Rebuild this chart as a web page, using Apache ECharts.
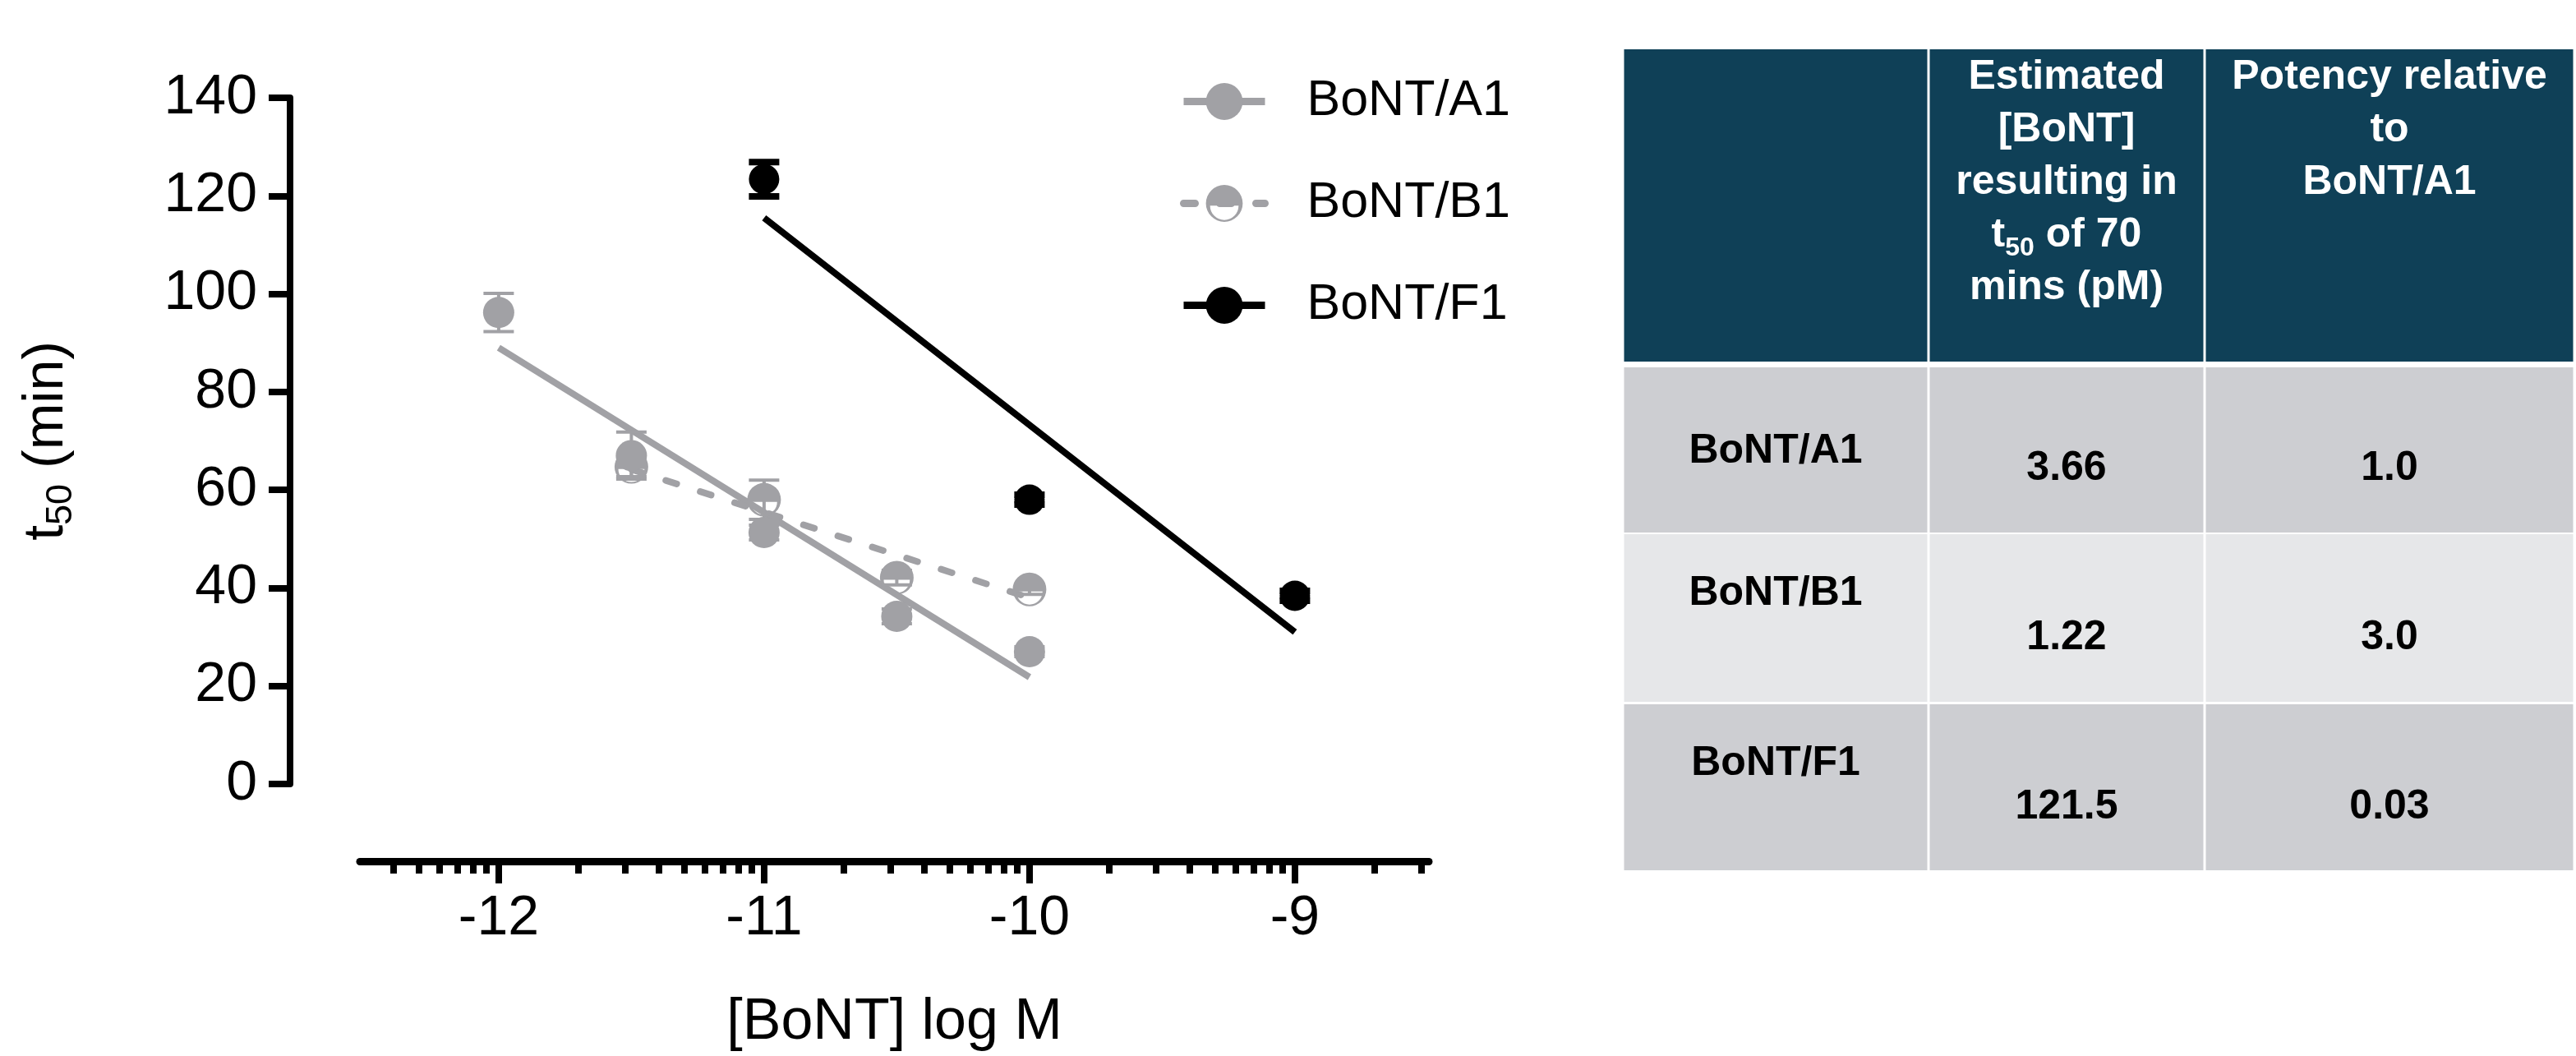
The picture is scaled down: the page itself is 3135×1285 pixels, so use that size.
<!DOCTYPE html>
<html>
<head>
<meta charset="utf-8">
<script src="https://cdn.jsdelivr.net/npm/echarts@6.0.0/dist/echarts.min.js"></script>
<style>
  html, body { margin: 0; padding: 0; background: #ffffff; }
  #chart { width: 3135px; height: 1285px; }
</style>
</head>
<body>
<div id="chart"></div>
<script>
// ---------- data ----------
const seriesNames = ['BoNT/A1', 'BoNT/B1', 'BoNT/F1'];

const xA1 = [-12, -11.5, -11, -10.5, -10];
const yA1 = [96.2, 67.0, 51.3, 34.2, 27.0];
const eA1 = [3.9, 4.8, 1.5, 1.5, 1.0];

const xB1 = [-11.5, -11, -10.5, -10];
const yB1 = [64.7, 58.0, 42.1, 39.7];
const eB1 = [2.0, 4.0, 1.5, 1.0];

const xF1 = [-11, -10, -9];
const yF1 = [123.4, 58.0, 38.4];
const eF1 = [3.5, 1.0, 1.0];

const fitXA1 = [-12, -10];
const fitYA1 = [89.0, 21.8];
const fitXB1 = [-11.5, -10];
const fitYB1 = [64.2, 38.0];
const fitXF1 = [-11, -9];
const fitYF1 = [115.5, 31.0];

const xTickLabels = [-12, -11, -10, -9];
const yTickInterval = 20;

const tableHeaders = ['', 'Estimated\n[BoNT]\nresulting in\nt{sub|50} of 70\nmins (pM)', 'Potency relative\nto\nBoNT/A1'];
const rowLabels = ['BoNT/A1', 'BoNT/B1', 'BoNT/F1'];
const estConc = ['3.66', '1.22', '121.5'];
const potency = ['1.0', '3.0', '0.03'];

// ---------- styling / layout ----------
const FONT = "'Liberation Sans', Arial, Helvetica, sans-serif";
const GRAY = '#a1a1a5';
const BLACK = '#000000';
const halfCircle = 'path://M-20,0 A20,20 0 1,1 20,0 A20,20 0 1,1 -20,0 Z M15.5,2.5 L-15.5,2.5 A15.5,15.5 0 0,0 15.5,2.5 Z';

const zip = (xs, ys) => xs.map((x, i) => [x, ys[i]]);
const zip3 = (xs, ys, es) => xs.map((x, i) => [x, ys[i], es[i]]);

// minor (log-spaced) tick positions on the log10 axis
const minorTicks = [];
for (let d = -13; d <= -9; d++) {
  for (let k = 2; k <= 9; k++) {
    const v = d + Math.log10(k);
    if (v > -12.52 && v < -8.49) minorTicks.push(v);
  }
}

function errorBars(color, stem, cap, capW) {
  return function (params, api) {
    const x = api.value(0), y = api.value(1), e = api.value(2);
    const t = api.coord([x, y + e]);
    const b = api.coord([x, y - e]);
    const h = capW / 2;
    return {
      type: 'group',
      children: [
        { type: 'line', shape: { x1: t[0], y1: t[1], x2: b[0], y2: b[1] }, style: { stroke: color, lineWidth: stem } },
        { type: 'line', shape: { x1: t[0] - h, y1: t[1], x2: t[0] + h, y2: t[1] }, style: { stroke: color, lineWidth: cap } },
        { type: 'line', shape: { x1: b[0] - h, y1: b[1], x2: b[0] + h, y2: b[1] }, style: { stroke: color, lineWidth: cap } }
      ]
    };
  };
}

// ---------- table (graphic) ----------
const colX = [1975, 2347, 2683, 3133];
const headerTop = 60, headerBottom = 440;
const rowY = [[447, 648], [650, 854], [857, 1059]];
const rowLabelY = [549, 722, 929];
const rowValueY = [570, 776, 982];
const rowFill = ['#cdced2', '#e6e7e9', '#cdced2'];
const HEADER_FILL = '#0f4057';

const graphics = [];
for (let c = 0; c < 3; c++) {
  graphics.push({
    type: 'rect', silent: true,
    shape: { x: colX[c] + 1.5, y: headerTop, width: colX[c + 1] - colX[c] - 3, height: headerBottom - headerTop },
    style: { fill: HEADER_FILL }
  });
  if (tableHeaders[c]) {
    graphics.push({
      type: 'text', silent: true,
      x: (colX[c] + colX[c + 1]) / 2, y: 62,
      style: {
        text: tableHeaders[c], fill: '#ffffff', fontFamily: FONT, fontSize: 50, fontWeight: 'bold',
        lineHeight: 64, align: 'center', verticalAlign: 'top',
        rich: { sub: { fontFamily: FONT, fontSize: 32, fontWeight: 'bold', lineHeight: 30, verticalAlign: 'bottom', fill: '#ffffff' } }
      }
    });
  }
}
for (let r = 0; r < rowLabels.length; r++) {
  for (let c = 0; c < 3; c++) {
    graphics.push({
      type: 'rect', silent: true,
      shape: { x: colX[c] + 1.5, y: rowY[r][0], width: colX[c + 1] - colX[c] - 3, height: rowY[r][1] - rowY[r][0] },
      style: { fill: rowFill[r] }
    });
  }
  const cells = [rowLabels[r], estConc[r], potency[r]];
  for (let c = 0; c < 3; c++) {
    graphics.push({
      type: 'text', silent: true,
      x: (colX[c] + colX[c + 1]) / 2, y: c === 0 ? rowLabelY[r] : rowValueY[r],
      style: { text: cells[c], fill: '#000000', fontFamily: FONT, fontSize: 50, fontWeight: 'bold', align: 'center', verticalAlign: 'middle' }
    });
  }
}

// ---------- chart ----------
const chart = echarts.init(document.getElementById('chart'), null, { renderer: 'canvas' });

const X_MIN = Math.log10(3e-13), X_MAX = -8.495;

const option = {
  animation: false,
  backgroundColor: '#ffffff',
  textStyle: { fontFamily: FONT },
  grid: { left: 438, right: 1396, top: 119, bottom: 331, containLabel: false },
  legend: {
    data: seriesNames,
    orient: 'vertical',
    left: 1431, top: 88,
    itemWidth: 99, itemHeight: 56, itemGap: 63,
    selectedMode: false,
    lineStyle: { width: 9 },
    textStyle: { fontFamily: FONT, fontSize: 61, color: '#000', padding: [0, 0, 0, 46] }
  },
  xAxis: [
    {
      type: 'value', min: X_MIN, max: X_MAX, offset: 94, position: 'bottom',
      name: '[BoNT] log M', nameLocation: 'middle', nameGap: 162,
      nameTextStyle: { fontFamily: FONT, fontSize: 70, color: '#000' },
      axisLine: { show: true, onZero: false, lineStyle: { color: '#000', width: 9 } },
      axisTick: { show: true, length: 27, lineStyle: { color: '#000', width: 8 }, customValues: xTickLabels },
      axisLabel: { show: true, fontFamily: FONT, fontSize: 68, color: '#000', margin: 36, customValues: xTickLabels, formatter: v => String(v) },
      splitLine: { show: false }
    },
    {
      type: 'value', min: X_MIN, max: X_MAX, offset: 94, position: 'bottom',
      axisLine: { show: false, onZero: false },
      axisTick: { show: true, length: 15, lineStyle: { color: '#000', width: 8 }, customValues: minorTicks },
      axisLabel: { show: false },
      splitLine: { show: false }
    }
  ],
  yAxis: {
    type: 'value', min: 0, max: 140, interval: yTickInterval, offset: 85,
    name: 't{sub|50} (min)', nameLocation: 'middle', nameRotate: 90, nameGap: 256,
    nameTextStyle: {
      fontFamily: FONT, fontSize: 68, color: '#000', lineHeight: 80,
      rich: { sub: { fontFamily: FONT, fontSize: 45, color: '#000', lineHeight: 44, verticalAlign: 'bottom' } }
    },
    axisLine: { show: true, onZero: false, lineStyle: { color: '#000', width: 8 } },
    axisTick: { show: true, length: 26, lineStyle: { color: '#000', width: 8 } },
    axisLabel: { fontFamily: FONT, fontSize: 68, color: '#000', margin: 40 },
    splitLine: { show: false }
  },
  graphic: graphics,
  series: [
    { name: 'BoNT/A1', type: 'line', data: zip(fitXA1, fitYA1), showSymbol: false, symbol: 'circle', z: 2,
      itemStyle: { color: GRAY }, lineStyle: { color: GRAY, width: 8 }, silent: true },
    { name: 'BoNT/B1', type: 'line', data: zip(fitXB1, fitYB1), showSymbol: false, symbol: halfCircle, z: 2,
      itemStyle: { color: GRAY }, lineStyle: { color: GRAY, width: 8, type: [14, 30], cap: 'round' }, silent: true },
    { name: 'BoNT/F1', type: 'line', data: zip(fitXF1, fitYF1), showSymbol: false, symbol: 'circle', z: 2,
      itemStyle: { color: BLACK }, lineStyle: { color: BLACK, width: 8 }, silent: true },

    { name: 'errB1', type: 'custom', data: zip3(xB1, yB1, eB1), renderItem: errorBars(GRAY, 4, 4, 37), z: 3, silent: true },
    { name: 'errA1', type: 'custom', data: zip3(xA1, yA1, eA1), renderItem: errorBars(GRAY, 4, 4, 37), z: 3, silent: true },
    { name: 'errF1', type: 'custom', data: zip3(xF1, yF1, eF1), renderItem: errorBars(BLACK, 5, 8, 37), z: 3, silent: true },

    { name: 'ptsB1', type: 'scatter', data: zip(xB1, yB1), symbol: halfCircle, symbolSize: 41, z: 4,
      itemStyle: { color: GRAY, opacity: 1 }, silent: true },
    { name: 'ptsA1', type: 'scatter', data: zip(xA1, yA1), symbol: 'circle', symbolSize: 38, z: 5,
      itemStyle: { color: GRAY, opacity: 1 }, silent: true },
    { name: 'ptsF1', type: 'scatter', data: zip(xF1, yF1), symbol: 'circle', symbolSize: 37, z: 5,
      itemStyle: { color: BLACK, opacity: 1 }, silent: true }
  ]
};
chart.setOption(option);
</script>
</body>
</html>
